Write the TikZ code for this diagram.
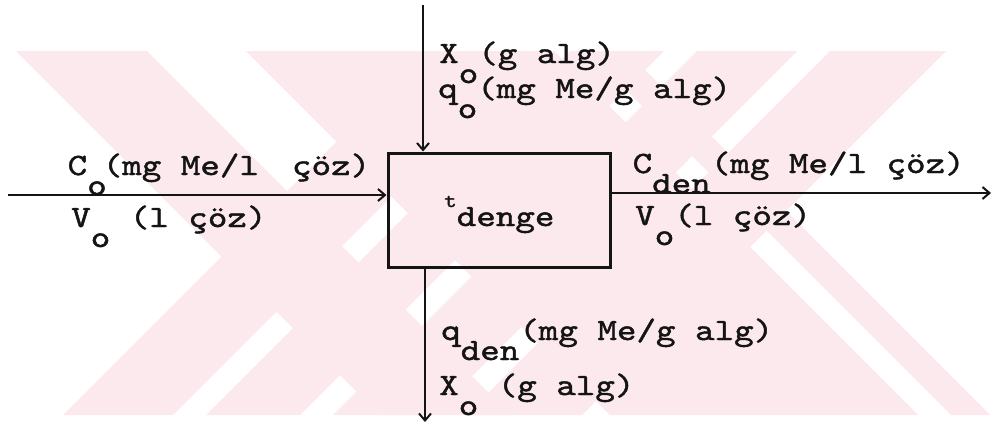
\documentclass[tikz,border=0pt]{standalone}
\usepackage{fontspec}
\usetikzlibrary{arrows.meta}
% typewriter face, widened to a typewriter pitch
\newfontfamily\typew{lmmono10-regular.otf}[FakeStretch=1.2, FakeBold=1.4, WordSpace={1,0,0}]
\definecolor{ink}{RGB}{20,20,20}
\definecolor{wmpink}{RGB}{252,233,237}
% a lowered (subscript) group, typed half a line down
\newcommand{\dn}[1]{\raisebox{-20pt}{#1}}
\tikzset{
  lbl/.style={anchor=base west, inner sep=0pt, text=ink,
    font=\typew\fontsize{31}{34}\selectfont},
  flow/.style={draw=ink, line width=2.4pt,
    -{Straight Barb[length=7pt,width=12pt,line width=2pt]}},
  unit/.style={draw=ink, line width=3pt, minimum width=222pt,
    minimum height=114pt, inner sep=0pt},
  wm/.style={fill=wmpink, draw=none}
}
\begin{document}
\begin{tikzpicture}[x=1pt,y=-1pt]
  \fill[white] (0,0) rectangle (993,424);
  \useasboundingbox (0,0) rectangle (993,424);

  % background stripes
  \begin{scope}
    \clip (0,51) rectangle (993,415);
    \foreach \a/\b in {-35/96, 195/503, 536/575}
      \fill[wm] (\a+51,51) -- (\b+51,51) -- (\b+415,415) -- (\a+415,415) -- cycle;
    \foreach \a/\b in {478/588, 621/715, 748/848, 881/997}
      \fill[wm] (\a-51,51) -- (\b-51,51) -- (\b-415,415) -- (\a-415,415) -- cycle;
  \end{scope}

  % the vessel at equilibrium
  \node[unit] (box) at (499,210) {};

  % free ends of the streams
  \coordinate (inT)  at (423,5);
  \coordinate (inL)  at (8,195);
  \coordinate (outR) at (991,193);
  \coordinate (outB) at (425,422);

  \draw[flow] (inT) -- (inT |- box.north);
  \draw[flow] (inL) -- (inL -| box.west);
  \draw[flow] (outR -| box.east) -- (outR);
  \draw[flow] (outB |- box.south) -- (outB);

  % stream labels
  \node[lbl] (xin)  at (439,63)    {X\dn{o}(g alg)};
  \node[lbl] (qin)  at (438,98)    {q\dn{o}(mg Me/g alg)};
  \node[lbl] (cin)  at (67.5,175)  {C\dn{o}\hspace{-4pt}(mg Me/l\ \ \hspace{-6pt}çöz)};
  \node[lbl] (vin)  at (71,227)    {V\dn{o} (l çöz)};
  \node[lbl] (cout) at (632.5,173) {C\dn{den}(mg Me/l çöz)};
  \node[lbl] (vout) at (635,225)   {V\dn{o}(l çöz)};
  \node[lbl] (teq)  at (444,207)   {{\fontsize{20}{20}\selectfont t}\raisebox{-19pt}{denge}};
  \node[lbl] (qout) at (441,340)   {q\dn{den}(mg Me/g alg)};
  \node[lbl] (xout) at (439,395)   {X\dn{o} (g alg)};
\end{tikzpicture}
\end{document}
